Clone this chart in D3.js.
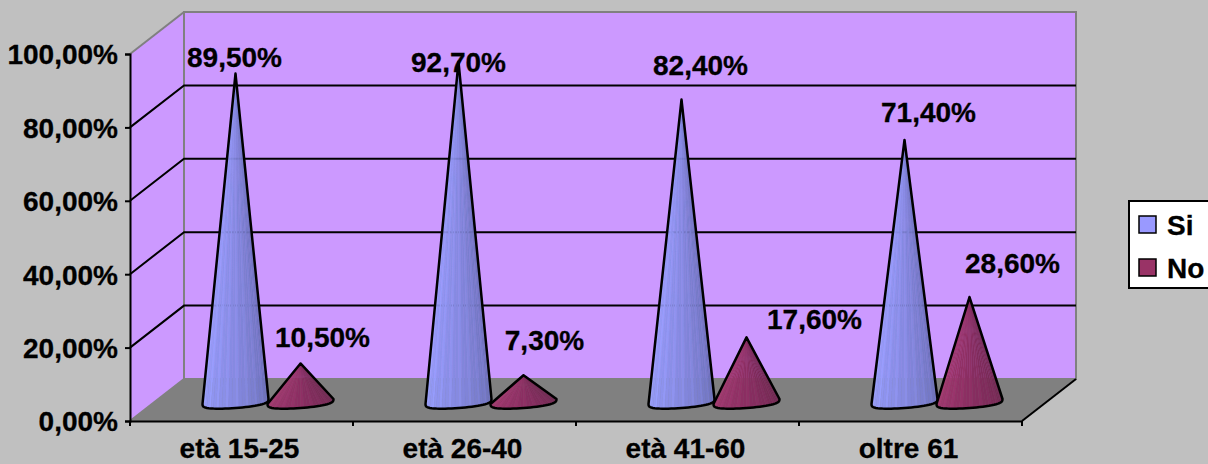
<!DOCTYPE html>
<html>
<head>
<meta charset="utf-8">
<script src="https://cdn.jsdelivr.net/npm/d3@7"></script>
<style>
  body { margin: 0; background: #c0c0c0; }
  svg { display: block; }
  text { font-family: "Liberation Sans", Arial, sans-serif; font-weight: bold; font-size: 28px; fill: #000; stroke: #000; stroke-width: 0.3px; }
</style>
</head>
<body>
<div id="chart"></div>
<script>
var categories = ["età 15-25", "età 26-40", "età 41-60", "oltre 61"];
var seriesNames = ["Si", "No"];
var siValues = [89.5, 92.7, 82.4, 71.4];
var noValues = [10.5, 7.3, 17.6, 28.6];
var yTicks = [0, 20, 40, 60, 80, 100];

// label nudges from the cone tip (the original labels were hand placed)
var siLabelNudge = [[-1, -7], [0, 10], [19, -25], [24, -18]];
var noLabelNudge = [[22, -16], [21, -25], [68, -8], [43, -24]];

var width = 1208, height = 464;
var plot = {left: 130, right: 1022, top: 54, bottom: 421};
var depth = {x: 54, y: -42};

var svg = d3.select("#chart").append("svg")
    .attr("width", width)
    .attr("height", height);

var y = d3.scaleLinear().domain([0, 100]).range([plot.bottom, plot.top]);
var x = d3.scaleBand().domain(categories).range([plot.left, plot.right]);
// the two cones inside one category
var xInner = d3.scaleBand().domain(seriesNames).range([46, 176]);

var fmt = function(d) { return d3.format(".2f")(d).replace(".", ",") + "%"; };
var pts = function(a) { return a.map(function(p) { return p.join(","); }).join(" "); };

// walls and floor
svg.append("polygon")
    .attr("points", pts([[plot.left, plot.top], [plot.left + depth.x, plot.top + depth.y],
        [plot.left + depth.x, plot.bottom + depth.y], [plot.left, plot.bottom]]))
    .style("fill", "#cc99ff");
svg.append("rect")
    .attr("x", plot.left + depth.x)
    .attr("y", plot.top + depth.y)
    .attr("width", plot.right - plot.left)
    .attr("height", plot.bottom - plot.top)
    .style("fill", "#cc99ff")
    .style("stroke", "#808080")
    .style("stroke-width", 2);
svg.append("polygon")
    .attr("points", pts([[plot.left, plot.bottom], [plot.left + depth.x, plot.bottom + depth.y],
        [plot.right + depth.x, plot.bottom + depth.y], [plot.right, plot.bottom]]))
    .style("fill", "#808080");
svg.append("line")
    .attr("x1", plot.left).attr("y1", plot.top)
    .attr("x2", plot.left + depth.x).attr("y2", plot.top + depth.y)
    .style("stroke", "#808080").style("stroke-width", 2);
svg.append("line")
    .attr("x1", plot.left).attr("y1", plot.bottom)
    .attr("x2", plot.left + depth.x).attr("y2", plot.bottom + depth.y)
    .style("stroke", "#808080").style("stroke-width", 2);
svg.append("line")
    .attr("x1", plot.right).attr("y1", plot.bottom)
    .attr("x2", plot.right + depth.x).attr("y2", plot.bottom + depth.y)
    .style("stroke", "#000").style("stroke-width", 2);

// gridlines run along the side wall and the back wall
yTicks.slice(1, -1).forEach(function(t) {
    svg.append("polyline")
        .attr("points", pts([[plot.left, y(t)], [plot.left + depth.x, y(t) + depth.y],
            [plot.right + depth.x, y(t) + depth.y]]))
        .style("fill", "none")
        .style("stroke", "#000")
        .style("stroke-width", 2);
});

// axes
var yAxis = d3.axisLeft(y).tickValues(yTicks).tickFormat(fmt).tickSize(5).tickPadding(7);
var yG = svg.append("g").attr("transform", "translate(" + plot.left + ",0)").call(yAxis);
var xAxis = d3.axisBottom(x).tickSize(0).tickPadding(17);
var xG = svg.append("g").attr("transform", "translate(0," + plot.bottom + ")").call(xAxis);
[yG, xG].forEach(function(g) {
    g.attr("font-family", null).attr("font-size", null);
    g.selectAll("path, line").style("stroke", "#000").style("stroke-width", 2);
});
yG.selectAll("text").attr("dy", "0.35em");
xG.selectAll("text").attr("dx", -2);
categories.concat([null]).forEach(function(c) {
    var px = c === null ? plot.right : x(c);
    svg.append("line")
        .attr("x1", px).attr("x2", px)
        .attr("y1", plot.bottom).attr("y2", plot.bottom + 5)
        .style("stroke", "#000").style("stroke-width", 2);
});

// cones
var coneRx = 33, coneRy = 6.5, coneTilt = 2.5, floorY = 401.5, valueBase = 402, facets = 30;
var coneColors = {
    "Si": d3.scaleLinear().domain([0, 0.5, 1]).range(["#9aa0ff", "#8589e0", "#6a6eb4"]),
    "No": d3.scaleLinear().domain([0, 0.5, 1]).range(["#a4396f", "#8a2e62", "#6e2850"])
};
var baseOffset = y(0) - valueBase;

function basePoint(cx, t) {
    // flattened front edge, right end sits a bit higher than the left
    return [cx - coneRx * Math.cos(t), floorY + coneRy * Math.pow(Math.sin(t), 0.6) + coneTilt * Math.cos(t)];
}

function drawCone(cat, name, value) {
    var cx = x(cat) + depth.x / 2 + xInner(name) + xInner.bandwidth() / 2;
    var tip = [cx, y(value) - baseOffset];
    var g = svg.append("g");
    var ts = d3.range(facets + 1).map(function(i) { return Math.PI * i / facets; });
    d3.range(facets).forEach(function(i) {
        var a = basePoint(cx, ts[i]), b = basePoint(cx, ts[i + 1]);
        var c = d3.color(coneColors[name](i / (facets - 1)));
        if (i % 3 === 0) c = c.brighter(0.12);
        g.append("polygon")
            .attr("points", pts([tip, a, b]))
            .style("fill", c)
            .style("stroke", c)
            .style("stroke-width", 0.4);
    });
    g.append("path")
        .attr("d", d3.line()([tip].concat(ts.map(function(t) { return basePoint(cx, t); }))) + "Z")
        .style("fill", "none")
        .style("stroke", "#000")
        .style("stroke-width", 2.5)
        .style("stroke-linejoin", "round");
    return tip;
}

var tipsSi = [], tipsNo = [];
categories.forEach(function(c, i) {
    tipsSi.push(drawCone(c, "Si", siValues[i]));
    tipsNo.push(drawCone(c, "No", noValues[i]));
});

// data labels
function drawLabels(tips, values, nudge) {
    svg.selectAll(null)
        .data(values)
        .enter().append("text")
        .attr("text-anchor", "middle")
        .attr("x", function(d, i) { return tips[i][0] + nudge[i][0]; })
        .attr("y", function(d, i) { return tips[i][1] + nudge[i][1]; })
        .text(fmt);
}
drawLabels(tipsSi, siValues, siLabelNudge);
drawLabels(tipsNo, noValues, noLabelNudge);

// legend
var legendColors = ["#9999ff", "#993366"];
var legend = svg.append("g").attr("transform", "translate(1129,201)");
legend.append("rect")
    .attr("width", 90).attr("height", 87)
    .style("fill", "#fff").style("stroke", "#000").style("stroke-width", 2);
var legendY = d3.scalePoint().domain(seriesNames).range([24, 67]);
seriesNames.forEach(function(s, i) {
    legend.append("rect")
        .attr("x", 10).attr("y", legendY(s) - 9)
        .attr("width", 17).attr("height", 17)
        .style("fill", legendColors[i]).style("stroke", "#000").style("stroke-width", 1.5);
    legend.append("text")
        .attr("x", 38).attr("y", legendY(s) + 10)
        .text(s);
});
</script>
</body>
</html>
